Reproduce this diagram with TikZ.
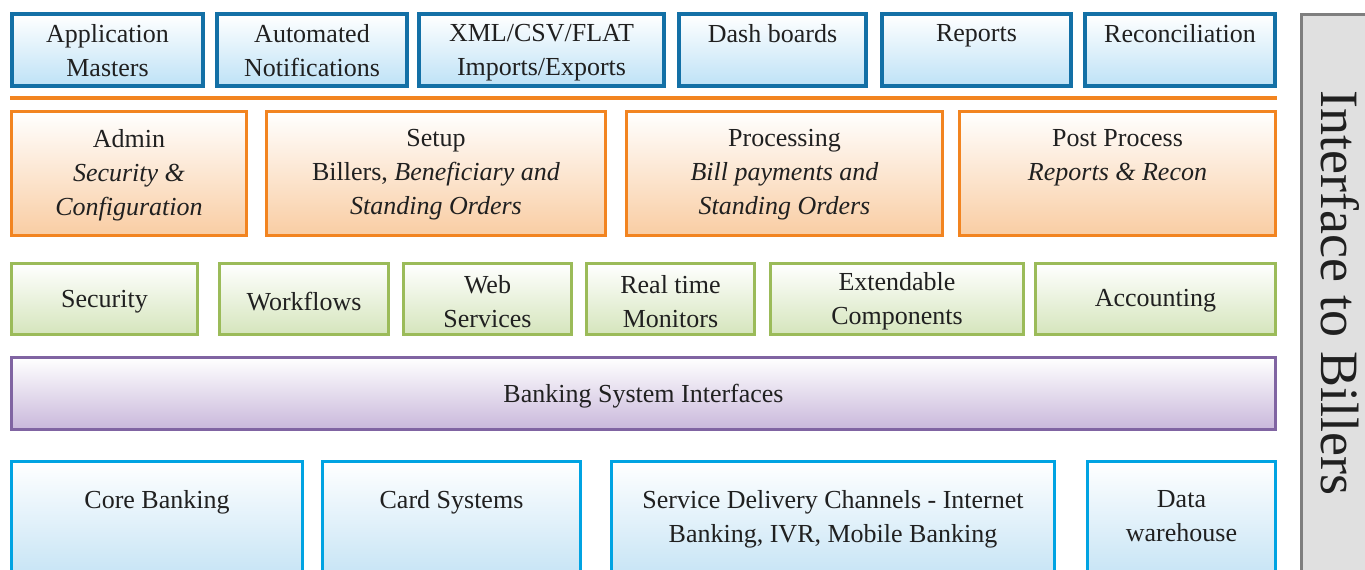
\documentclass[tikz,border=0pt]{standalone}
\usepackage{fontspec}
\setmainfont{Liberation Serif}
\usetikzlibrary{positioning}

\definecolor{modblue}{HTML}{1370A6}
\definecolor{modbluefill}{HTML}{BEE2F6}
\definecolor{procorange}{HTML}{F28420}
\definecolor{procorangefill}{HTML}{F9CDA3}
\definecolor{compgreen}{HTML}{9BBB59}
\definecolor{compgreenfill}{HTML}{D5E5BC}
\definecolor{bankpurple}{HTML}{8064A2}
\definecolor{bankpurplefill}{HTML}{C9B8DB}
\definecolor{syscyan}{HTML}{00A3E2}
\definecolor{syscyanfill}{HTML}{C6E4F5}
\definecolor{sidegray}{HTML}{7F7F7F}
\definecolor{sidegrayfill}{HTML}{E0E0E0}
\definecolor{textgray}{HTML}{202020}

\begin{document}
\begin{tikzpicture}[x=1pt,y=-1pt,
                    layerbox/.style={rectangle,
                                     inner sep=0pt,outer sep=0pt,
                                     anchor=north west,
                                     top color=white
                                    },
                    modulebox/.style={layerbox,
                                      draw=modblue,line width=3.5pt,
                                      bottom color=modbluefill,
                                      minimum height=72pt
                                     },
                    processbox/.style={layerbox,
                                       draw=procorange,line width=3pt,
                                       bottom color=procorangefill,
                                       minimum height=124pt
                                      },
                    componentbox/.style={layerbox,
                                         draw=compgreen,line width=3pt,
                                         bottom color=compgreenfill,
                                         minimum height=71pt
                                        },
                    bankbox/.style={layerbox,
                                    draw=bankpurple,line width=3pt,
                                    bottom color=bankpurplefill,
                                    minimum height=72pt
                                   },
                    systembox/.style={layerbox,
                                      draw=syscyan,line width=3pt,
                                      bottom color=syscyanfill,
                                      minimum height=115pt
                                     },
                    sidebox/.style={rectangle,
                                    inner sep=0pt,outer sep=0pt,
                                    anchor=north west,
                                    draw=sidegray,fill=sidegrayfill,
                                    line width=3pt
                                   },
                    boxtext/.style={inner sep=0pt,
                                    align=center,text=textgray,
                                    font=\fontsize{26}{34}\selectfont
                                   },
                    separator/.style={draw=procorange,line width=3.5pt}
                   ]
  \clip (0,0) rectangle (1365,570);
  \fill[white] (0,0) rectangle (1365,570);

  % modules
  \node[modulebox,minimum width=191pt] (appmasters) at (12,14) { };
  \node[modulebox,minimum width=190pt] (notifications) at (217,14) { };
  \node[modulebox,minimum width=245pt] (imports) at (419,14) { };
  \node[modulebox,minimum width=187pt] (dashboards) at (679,14) { };
  \node[modulebox,minimum width=189pt] (reports) at (882,14) { };
  \node[modulebox,minimum width=190pt] (recon) at (1085,14) { };
  \node[boxtext,below=10pt of appmasters.north] (appmasterstext) {Application\\Masters};
  \node[boxtext,below=10pt of notifications.north] (notificationstext) {Automated\\Notifications};
  \node[boxtext,below=10pt of imports.north] (importstext) {XML/CSV/FLAT\\Imports/Exports};
  \node[boxtext,below=10pt of dashboards.north] (dashboardstext) {Dash boards};
  \node[boxtext,below=10pt of reports.north] (reportstext) {Reports};
  \node[boxtext,below=10pt of recon.north] (recontext) {Reconciliation};

  \coordinate (sepleft) at (10,98);
  \coordinate (sepright) at (1277,98);
  \draw[separator] (sepleft) -- (sepright);

  % processes
  \node[processbox,minimum width=235pt] (admin) at (11.5,111.5) { };
  \node[processbox,minimum width=339pt] (setup) at (266.5,111.5) { };
  \node[processbox,minimum width=316pt] (processing) at (626.5,111.5) { };
  \node[processbox,minimum width=316pt] (postprocess) at (959.5,111.5) { };
  \node[boxtext,below=18pt of admin.north] (admintext) {Admin\\\textit{Security \&}\\\textit{Configuration}};
  \node[boxtext,below=18pt of setup.north] (setuptext) {Setup\\Billers, \textit{Beneficiary and}\\\textit{Standing Orders}};
  \node[boxtext,below=18pt of processing.north] (processingtext) {Processing\\\textit{Bill payments and}\\\textit{Standing Orders}};
  \node[boxtext,below=18pt of postprocess.north] (postprocesstext) {Post Process\\\textit{Reports \& Recon}};

  % components
  \node[componentbox,minimum width=186pt] (security) at (11.5,263.5) { };
  \node[componentbox,minimum width=169pt] (workflows) at (219.5,263.5) { };
  \node[componentbox,minimum width=168pt] (webservices) at (403.5,263.5) { };
  \node[componentbox,minimum width=168pt] (monitors) at (586.5,263.5) { };
  \node[componentbox,minimum width=253pt] (extendable) at (770.5,263.5) { };
  \node[componentbox,minimum width=240pt] (accounting) at (1035.5,263.5) { };
  \node[boxtext] (securitytext) at ([yshift=-3pt]security.center) {Security};
  \node[boxtext] (workflowstext) at ([yshift=-3pt]workflows.center) {Workflows};
  \node[boxtext] (webservicestext) at ([yshift=-3pt]webservices.center) {Web\\Services};
  \node[boxtext] (monitorstext) at ([yshift=-3pt]monitors.center) {Real time\\Monitors};
  \node[boxtext] (extendabletext) at ([yshift=-2pt]extendable.center) {Extendable\\Components};
  \node[boxtext] (accountingtext) at ([yshift=-2pt]accounting.center) {Accounting};

  \node[bankbox,minimum width=1264pt] (bankinterfaces) at (11.5,357.5) { };
  \node[boxtext] (bankinterfacestext) at ([yshift=-3pt]bankinterfaces.center) {Banking System Interfaces};

  % banking systems
  \node[systembox,minimum width=291pt] (corebanking) at (11.5,461.5) { };
  \node[systembox,minimum width=258pt] (cardsystems) at (322.5,461.5) { };
  \node[systembox,minimum width=443pt] (channels) at (611.5,461.5) { };
  \node[systembox,minimum width=188pt] (warehouse) at (1087.5,461.5) { };
  \node[boxtext,below=29pt of corebanking.north] (corebankingtext) {Core Banking};
  \node[boxtext,below=29pt of cardsystems.north] (cardsystemstext) {Card Systems};
  \node[boxtext,below=29pt of channels.north] (channelstext) {Service Delivery Channels - Internet\\Banking, IVR, Mobile Banking};
  \node[boxtext,below=29pt of warehouse.north] (warehousetext) {Data\\warehouse};

  % billers
  \node[sidebox,minimum width=100pt,minimum height=600pt] (billers) at (1301.5,14.5) { };
  \node[inner sep=0pt,rotate=-90,text=textgray,font=\fontsize{54}{60}\selectfont]
        (billerstext) at (1340,293) {Interface to Billers};
\end{tikzpicture}
\end{document}
